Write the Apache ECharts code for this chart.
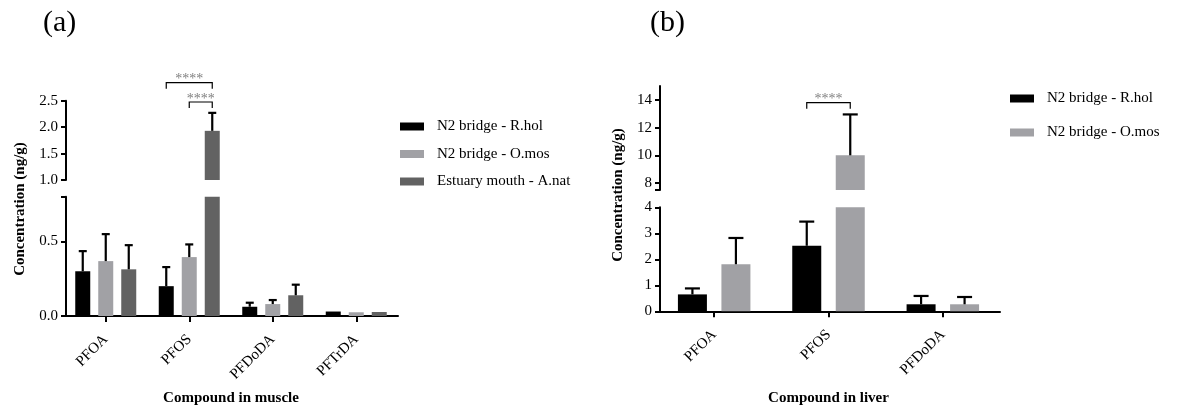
<!DOCTYPE html>
<html><head><meta charset="utf-8">
<script src="https://cdn.jsdelivr.net/npm/echarts@6/dist/echarts.min.js"></script>
<style>html,body{margin:0;padding:0;background:#fff}#c{width:1178px;height:408px}</style>
</head><body><div id="c"></div>
<script>
// ---------- data ----------
const muscleCategories = ['PFOA', 'PFOS', 'PFDoDA', 'PFTrDA'];
const muscleNames = ['N2 bridge - R.hol', 'N2 bridge - O.mos', 'Estuary mouth - A.nat'];
const muscleRhol = [0.30, 0.20, 0.062, 0.030];
const muscleRholSD = [0.135, 0.128, 0.027, 0];
const muscleOmos = [0.368, 0.395, 0.080, 0.025];
const muscleOmosSD = [0.181, 0.085, 0.027, 0];
const muscleAnat = [0.313, 1.93, 0.139, 0.027];
const muscleAnatSD = [0.162, 0.34, 0.071, 0];
const muscleUpperTicks = [1.0, 1.5, 2.0, 2.5];
const muscleLowerTicks = [0.0, 0.5];

const liverCategories = ['PFOA', 'PFOS', 'PFDoDA'];
const liverNames = ['N2 bridge - R.hol', 'N2 bridge - O.mos'];
const liverRhol = [0.65, 2.52, 0.27];
const liverRholSD = [0.23, 0.93, 0.32];
const liverOmos = [1.81, 10.0, 0.27];
const liverOmosSD = [1.01, 2.95, 0.28];
const liverUpperTicks = [8, 10, 12, 14];
const liverLowerTicks = [0, 1, 2, 3, 4];

// significance brackets: [category index, from series, to series, label]
const muscleSig = [[1, 0, 2, '****'], [1, 1, 2, '****']];
const liverSig = [[1, 0, 1, '****']];

// ---------- style ----------
const colors = ['#000000', '#a1a1a5', '#626262'];
const SERIF = 'Liberation Serif';
const muscleBreak = { lowMax: 0.8, upMin: 1.0, upMax: 2.5 };
const liverBreak = { lowMax: 4, upMin: 7.5, upMax: 15 };
const A = { left: 64, width: 334, upTop: 100.7, upH: 79.3, lowTop: 196.7, lowH: 119.3, barW: 15, gapPct: 8 / 15, cap: 8 };
const B = { left: 657, width: 343, upTop: 86, upH: 104, lowTop: 207.3, lowH: 104, barW: 29, gapPct: 14.5 / 29, cap: 15 };

function errRender(spacing, capW, n) {
  return function (params, api) {
    const cat = api.value(0), lo = api.value(1), hi = api.value(2), k = api.value(3);
    const dx = (k - (n - 1) / 2) * spacing;
    const p0 = api.coord([cat, lo]);
    const p1 = api.coord([cat, hi]);
    const x = p0[0] + dx;
    return {
      type: 'group', children: [
        { type: 'line', shape: { x1: x, y1: p0[1], x2: x, y2: p1[1] }, style: { stroke: '#000', lineWidth: 2.2 } },
        { type: 'line', shape: { x1: x - capW / 2, y1: p1[1], x2: x + capW / 2, y2: p1[1] }, style: { stroke: '#000', lineWidth: 2.2 } }
      ]
    };
  };
}
function sigRender(spacing, n, yPix, labels) {
  return function (params, api) {
    const cat = api.value(0), a = api.value(1), b = api.value(2);
    const c = api.coord([cat, 0]);
    const x1 = c[0] + (a - (n - 1) / 2) * spacing;
    const x2 = c[0] + (b - (n - 1) / 2) * spacing;
    const y = yPix[params.dataIndex];
    return {
      type: 'group', children: [
        { type: 'polyline', shape: { points: [[x1, y + 6], [x1, y], [x2, y], [x2, y + 6]] }, style: { stroke: '#000', lineWidth: 1.2, fill: null } },
        { type: 'text', style: { text: labels[params.dataIndex], x: (x1 + x2) / 2, y: y + 4, align: 'center', verticalAlign: 'bottom', fill: '#808080', font: '14px ' + SERIF } }
      ]
    };
  };
}

function buildErr(means, sds, threshold, upper) {
  const out = [];
  means.forEach((arr, k) => {
    arr.forEach((m, i) => {
      const sd = sds[k][i];
      if (!sd) return;
      const top = m + sd;
      if ((top > threshold) === upper) out.push([i, m, top, k]);
    });
  });
  return out;
}

const chart = echarts.init(document.getElementById('c'));
const axisLineStyle = { show: true, lineStyle: { color: '#000', width: 2 } };
const yLabel = { color: '#000', fontFamily: SERIF, fontSize: 15, margin: 8 };

const muscleMeans = [muscleRhol, muscleOmos, muscleAnat];
const muscleSDs = [muscleRholSD, muscleOmosSD, muscleAnatSD];
const liverMeans = [liverRhol, liverOmos];
const liverSDs = [liverRholSD, liverOmosSD];

const series = [];
muscleMeans.forEach((arr, k) => {
  series.push({ type: 'bar', name: muscleNames[k], xAxisIndex: 1, yAxisIndex: 1, data: arr, barWidth: A.barW, barGap: (A.gapPct * 100) + '%', itemStyle: { color: colors[k] }, clip: true, silent: true });
  series.push({ type: 'bar', name: muscleNames[k], xAxisIndex: 0, yAxisIndex: 0, data: arr.map(v => v > muscleBreak.lowMax ? v : '-'), barWidth: A.barW, barGap: (A.gapPct * 100) + '%', itemStyle: { color: colors[k] }, clip: true, silent: true });
});
liverMeans.forEach((arr, k) => {
  series.push({ type: 'bar', name: liverNames[k], xAxisIndex: 3, yAxisIndex: 3, data: arr, barWidth: B.barW, barGap: (B.gapPct * 100) + '%', itemStyle: { color: colors[k] }, clip: true, silent: true });
  series.push({ type: 'bar', name: liverNames[k], xAxisIndex: 2, yAxisIndex: 2, data: arr.map(v => v > liverBreak.lowMax ? v : '-'), barWidth: B.barW, barGap: (B.gapPct * 100) + '%', itemStyle: { color: colors[k] }, clip: true, silent: true });
});
const spA = A.barW * (1 + A.gapPct), spB = B.barW * (1 + B.gapPct);
series.push({ type: 'custom', xAxisIndex: 1, yAxisIndex: 1, renderItem: errRender(spA, A.cap, 3), data: buildErr(muscleMeans, muscleSDs, muscleBreak.lowMax, false), clip: false, z: 5, silent: true });
series.push({ type: 'custom', xAxisIndex: 0, yAxisIndex: 0, renderItem: errRender(spA, A.cap, 3), data: buildErr(muscleMeans, muscleSDs, muscleBreak.lowMax, true), clip: false, z: 5, silent: true });
series.push({ type: 'custom', xAxisIndex: 3, yAxisIndex: 3, renderItem: errRender(spB, B.cap, 2), data: buildErr(liverMeans, liverSDs, liverBreak.lowMax, false), clip: false, z: 5, silent: true });
series.push({ type: 'custom', xAxisIndex: 2, yAxisIndex: 2, renderItem: errRender(spB, B.cap, 2), data: buildErr(liverMeans, liverSDs, liverBreak.lowMax, true), clip: false, z: 5, silent: true });
series.push({ type: 'custom', xAxisIndex: 0, yAxisIndex: 0, renderItem: sigRender(spA, 3, [82.7, 102], muscleSig.map(s => s[3])), data: muscleSig.map(s => [s[0], s[1], s[2]]), clip: false, z: 6, silent: true });
series.push({ type: 'custom', xAxisIndex: 2, yAxisIndex: 2, renderItem: sigRender(spB, 2, [102.7], liverSig.map(s => s[3])), data: liverSig.map(s => [s[0], s[1], s[2]]), clip: false, z: 6, silent: true });

function catAxis(grid, cats, show, name, gap) {
  return {
    type: 'category', gridIndex: grid, data: cats, show: show,
    axisLine: { show: show, onZero: false, lineStyle: { color: '#000', width: 2 } },
    axisTick: { show: show, length: 6, lineStyle: { width: 2, color: '#000' }, alignWithLabel: true },
    axisLabel: { show: show, rotate: 45, interval: 0, color: '#000', fontFamily: SERIF, fontSize: 15, margin: 21 },
    name: name, nameLocation: 'middle', nameGap: gap,
    nameTextStyle: { color: '#000', fontFamily: SERIF, fontSize: 15, fontWeight: 'bold' }
  };
}
function valAxis(grid, min, max, off, opts) {
  return Object.assign({
    type: 'value', gridIndex: grid, min: min, max: max, offset: off,
    splitLine: { show: false },
    axisLine: axisLineStyle,
    axisTick: { show: true, length: 5, lineStyle: { width: 2, color: '#000' } },
    axisLabel: yLabel
  }, opts);
}
const tickStyle = { width: 2, color: '#000' };

chart.setOption({
  animation: false,
  backgroundColor: '#fff',
  title: [
    { text: '(a)', left: 43, top: 8, padding: 0, textStyle: { fontFamily: SERIF, fontSize: 30, fontWeight: 'normal', color: '#000' } },
    { text: '(b)', left: 650, top: 8, padding: 0, textStyle: { fontFamily: SERIF, fontSize: 30, fontWeight: 'normal', color: '#000' } }
  ],
  legend: [
    { data: muscleNames, orient: 'vertical', left: 400, top: 119, itemWidth: 24, itemHeight: 8, itemGap: 12.5, icon: 'rect', padding: 0, selectedMode: false,
      textStyle: { fontFamily: SERIF, fontSize: 15, color: '#000', padding: [0, 0, 0, 8] } },
    { data: liverNames, orient: 'vertical', left: 1010, top: 91, itemWidth: 24, itemHeight: 8, itemGap: 19, icon: 'rect', padding: 0, selectedMode: false,
      textStyle: { fontFamily: SERIF, fontSize: 15, color: '#000', padding: [0, 0, 0, 8] } }
  ],
  grid: [
    { left: A.left, width: A.width, top: A.upTop, height: A.upH },
    { left: A.left, width: A.width, top: A.lowTop, height: A.lowH },
    { left: B.left, width: B.width, top: B.upTop, height: B.upH },
    { left: B.left, width: B.width, top: B.lowTop, height: B.lowH }
  ],
  xAxis: [
    catAxis(0, muscleCategories, false, '', 0),
    catAxis(1, muscleCategories, true, 'Compound in muscle', 75),
    catAxis(2, liverCategories, false, '', 0),
    catAxis(3, liverCategories, true, 'Compound in liver', 79)
  ],
  yAxis: [
    valAxis(0, muscleBreak.upMin, muscleBreak.upMax, -2, {
      axisTick: { show: true, length: 5, lineStyle: tickStyle, customValues: muscleUpperTicks },
      axisLabel: Object.assign({}, yLabel, { customValues: muscleUpperTicks, formatter: v => Number(v).toFixed(1) })
    }),
    valAxis(1, 0, muscleBreak.lowMax, -2, {
      axisTick: { show: true, length: 5, lineStyle: tickStyle, customValues: muscleLowerTicks.concat([muscleBreak.lowMax]) },
      axisLabel: Object.assign({}, yLabel, { customValues: muscleLowerTicks, formatter: v => Number(v).toFixed(1) })
    }),
    valAxis(2, liverBreak.upMin, liverBreak.upMax, -3, {
      axisTick: { show: true, length: 5, lineStyle: tickStyle, customValues: [liverBreak.upMin].concat(liverUpperTicks) },
      axisLabel: Object.assign({}, yLabel, { customValues: liverUpperTicks })
    }),
    valAxis(3, 0, liverBreak.lowMax, -3, {
      axisTick: { show: true, length: 5, lineStyle: tickStyle, customValues: liverLowerTicks },
      axisLabel: Object.assign({}, yLabel, { customValues: liverLowerTicks })
    })
  ],
  graphic: [
    { type: 'text', x: 20, y: 209, rotation: Math.PI / 2, style: { text: 'Concentration (ng/g)', align: 'center', verticalAlign: 'middle', font: 'bold 15px ' + SERIF, fill: '#000' } },
    { type: 'text', x: 618, y: 195, rotation: Math.PI / 2, style: { text: 'Concentration (ng/g)', align: 'center', verticalAlign: 'middle', font: 'bold 15px ' + SERIF, fill: '#000' } }
  ],
  series: series
});
</script></body></html>
